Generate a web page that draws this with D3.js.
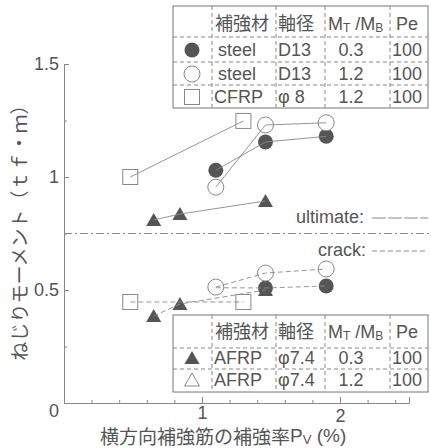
<!DOCTYPE html>
<html><head><meta charset="utf-8">
<script src="https://cdn.jsdelivr.net/npm/d3@7"></script>
<style>
html,body{margin:0;padding:0;background:#fff;}
svg{display:block;}
text{font-family:"Liberation Sans","Noto Sans CJK JP",sans-serif;fill:#555;}
</style></head>
<body>
<svg id="c" width="431" height="448"></svg>
<script>
// ---- data ----
const steel03X = [1.10, 1.46, 1.90];
const steel03Ult = [1.03, 1.155, 1.18];
const steel03Crack = [0.51, 0.509, 0.518];
const steel12X = [1.10, 1.46, 1.90];
const steel12Ult = [0.955, 1.23, 1.24];
const steel12Crack = [0.513, 0.575, 0.593];
const cfrpX = [0.48, 1.30];
const cfrpUlt = [1.0, 1.248];
const cfrpCrack = [0.447, 0.447];
const afrpX = [0.65, 0.84, 1.46];
const afrpUlt = [0.81, 0.836, 0.894];
const afrpCrack = [0.385, 0.438, 0.50];
const dividerY = 0.75;
const yTicks = [0.5, 1, 1.5];
const yMinor = [0.25, 0.75, 1.25];
const xTicks = [1, 2];
const xMinor = [0.2,0.4,0.6,0.8,1.2,1.4,1.6,1.8,2.2,2.4];
const legendTopHeader = ["補強材","軸径","MT/MB","Pe"];
const legendTopRows = [
  ["filledCircle","steel","D13","0.3","100"],
  ["openCircle","steel","D13","1.2","100"],
  ["openSquare","CFRP","φ 8","1.2","100"]
];
const legendBotRows = [
  ["filledTri","AFRP","φ7.4","0.3","100"],
  ["openTri","AFRP","φ7.4","1.2","100"]
];

const svg = d3.select("#c");
const x = d3.scaleLinear().domain([0, 2.5]).range([64, 409]);
const y = d3.scaleLinear().domain([0, 1.5]).range([403, 64]);
const ink = "#555", lineC = "#8a8a8a";

// axes
const gy = svg.append("g").attr("transform","translate(64,0)")
  .call(d3.axisLeft(y).tickValues(yTicks).tickSize(-5).tickPadding(5).tickFormat(d3.format("~g")));
const gym = svg.append("g").attr("transform","translate(64,0)")
  .call(d3.axisLeft(y).tickValues(yMinor).tickSize(-3).tickFormat(""));
const gx = svg.append("g").attr("transform","translate(0,403)")
  .call(d3.axisBottom(x).tickValues(xTicks).tickSize(-6).tickPadding(3).tickFormat(d3.format("~g")));
const gxm = svg.append("g").attr("transform","translate(0,403)")
  .call(d3.axisBottom(x).tickValues(xMinor).tickSize(-3).tickFormat(""));
[gy,gym,gx,gxm].forEach(g=>{
  g.selectAll(".domain").attr("stroke","#888");
  g.selectAll(".tick line").attr("stroke","#888");
  g.selectAll("text").attr("font-size",18).attr("fill",ink)
    .attr("font-family",'"Liberation Sans",sans-serif');
});
gym.select(".domain").remove(); gxm.select(".domain").remove();
gx.selectAll(".tick text").filter(d=>d===2).attr("dy","0.9em");
svg.append("text").attr("x",59).attr("y",411).attr("text-anchor","end")
  .attr("dominant-baseline","central").attr("font-size",18).text("0");

// divider line
svg.append("line").attr("x1",x(0)).attr("x2",431).attr("y1",y(dividerY)).attr("y2",y(dividerY))
  .attr("stroke","#888").attr("stroke-width",1).attr("stroke-dasharray","8,3,2,3");

// ultimate / crack legend
svg.append("text").attr("x",364).attr("y",217).attr("text-anchor","end")
  .attr("dominant-baseline","central").attr("font-size",18).text("ultimate:");
svg.append("line").attr("x1",372).attr("x2",428).attr("y1",218).attr("y2",218)
  .attr("stroke",lineC).attr("stroke-dasharray","14,2");
svg.append("text").attr("x",366).attr("y",250).attr("text-anchor","end")
  .attr("dominant-baseline","central").attr("font-size",18).text("crack:");
svg.append("line").attr("x1",372).attr("x2",428).attr("y1",251).attr("y2",251)
  .attr("stroke",lineC).attr("stroke-dasharray","5,3");

// markers
function marker(g, type, cx, cy){
  if(type==="filledCircle"){
    g.append("circle").attr("cx",cx).attr("cy",cy).attr("r",7.5).attr("fill","#555");
  } else if(type==="openCircle"){
    g.append("circle").attr("cx",cx).attr("cy",cy).attr("r",8).attr("fill","#fff")
      .attr("stroke","#888").attr("stroke-width",1);
  } else if(type==="openSquare"){
    g.append("rect").attr("x",cx-7.5).attr("y",cy-7.5).attr("width",15).attr("height",15)
      .attr("fill","#fff").attr("stroke","#888").attr("stroke-width",1);
  } else if(type==="filledTri"){
    g.append("path").attr("d",`M${cx},${cy-7}L${cx+7.5},${cy+6}L${cx-7.5},${cy+6}Z`).attr("fill","#555");
  } else if(type==="openTri"){
    g.append("path").attr("d",`M${cx},${cy-7}L${cx+7.5},${cy+6}L${cx-7.5},${cy+6}Z`)
      .attr("fill","#fff").attr("stroke","#888");
  }
}

const series = [
  {xs:steel03X, ys:steel03Ult, m:"filledCircle", dash:null, showPts:[1,1,1]},
  {xs:steel03X, ys:steel03Crack, m:"filledCircle", dash:"5,3", showPts:[0,1,1]},
  {xs:afrpX, ys:afrpUlt, m:"filledTri", dash:null, showPts:[1,1,1]},
  {xs:afrpX, ys:afrpCrack, m:"filledTri", dash:"5,3", showPts:[1,1,1]},
  {xs:steel12X, ys:steel12Ult, m:"openCircle", dash:null, showPts:[1,1,1]},
  {xs:steel12X, ys:steel12Crack, m:"openCircle", dash:"5,3", showPts:[1,1,1]},
  {xs:cfrpX, ys:cfrpUlt, m:"openSquare", dash:null, showPts:[1,1]},
  {xs:cfrpX, ys:cfrpCrack, m:"openSquare", dash:"5,3", showPts:[1,1]}
];
const gm = svg.append("g");
series.forEach(s=>{
  s.xs.forEach((xv,i)=>{ if(s.showPts[i]) marker(gm, s.m, x(xv), y(s.ys[i])); });
});
const line = d3.line().x(d=>x(d[0])).y(d=>y(d[1]));
series.forEach(s=>{
  const pts = s.xs.map((xv,i)=>[xv,s.ys[i]]);
  svg.append("path").attr("d",line(pts)).attr("fill","none").attr("stroke",lineC)
    .attr("stroke-width",0.9).attr("stroke-dasharray",s.dash);
});

// legend tables
const colSep = [212, 276, 325, 390];
function table(top, bottom, left, headerY, rowYs, rows, sepYs){
  const g = svg.append("g");
  g.append("rect").attr("x",left).attr("y",top).attr("width",428-left).attr("height",bottom-top)
    .attr("fill","#fff").attr("stroke","#777").attr("stroke-width",1);
  colSep.forEach(cx=>g.append("line").attr("x1",cx).attr("x2",cx).attr("y1",top).attr("y2",bottom)
    .attr("stroke","#888").attr("stroke-dasharray","4,3"));
  sepYs.forEach(sy=>g.append("line").attr("x1",left).attr("x2",428).attr("y1",sy).attr("y2",sy)
    .attr("stroke","#888").attr("stroke-dasharray","4,3"));
  const fs = 18;
  g.append("text").attr("x",215).attr("y",headerY).attr("dominant-baseline","central")
    .attr("font-size",fs).text(legendTopHeader[0]);
  g.append("text").attr("x",278).attr("y",headerY).attr("dominant-baseline","central")
    .attr("font-size",fs).text(legendTopHeader[1]);
  const mt = g.append("text").attr("x",328).attr("y",headerY).attr("dominant-baseline","central")
    .attr("font-size",fs);
  mt.append("tspan").text("M");
  mt.append("tspan").attr("font-size",12).attr("dy",4).text("T");
  mt.append("tspan").attr("dy",-4).text(" /M");
  mt.append("tspan").attr("font-size",12).attr("dy",4).text("B");
  g.append("text").attr("x",396).attr("y",headerY).attr("dominant-baseline","central")
    .attr("font-size",fs).text(legendTopHeader[3]);
  rows.forEach((r,i)=>{
    const ry = rowYs[i];
    marker(g, r[0], 192, ry);
    g.append("text").attr("x",r[1]==="steel"?218:214).attr("y",ry).attr("dominant-baseline","central").attr("font-size",fs).text(r[1]);
    g.append("text").attr("x",278).attr("y",ry).attr("dominant-baseline","central").attr("font-size",fs).text(r[2]);
    g.append("text").attr("x",351).attr("y",ry).attr("text-anchor","middle").attr("dominant-baseline","central").attr("font-size",fs).text(r[3]);
    g.append("text").attr("x",392).attr("y",ry).attr("dominant-baseline","central").attr("font-size",fs).text(r[4]);
  });
}
table(6, 108, 173, 24, [50,74,97], legendTopRows, [37,62,85]);
table(315, 392, 173, 332, [358,380], legendBotRows, [348,369]);

// axis titles
svg.append("text").attr("transform","translate(20,228) rotate(-90)")
  .attr("text-anchor","middle").attr("dominant-baseline","central")
  .attr("font-size",19).attr("font-family",'"Noto Sans CJK JP",sans-serif')
  .text("ねじりモーメント（ｔｆ・ｍ）");
const xl = svg.append("text").attr("x",100).attr("y",435).attr("dominant-baseline","central")
  .attr("font-size",19);
xl.append("tspan").attr("font-family",'"Noto Sans CJK JP",sans-serif').text("横方向補強筋の補強率");
xl.append("tspan").text("P");
xl.append("tspan").attr("font-size",13).attr("dy",4).text("V");
xl.append("tspan").attr("dy",-4).text(" (%)");
</script>
</body></html>
